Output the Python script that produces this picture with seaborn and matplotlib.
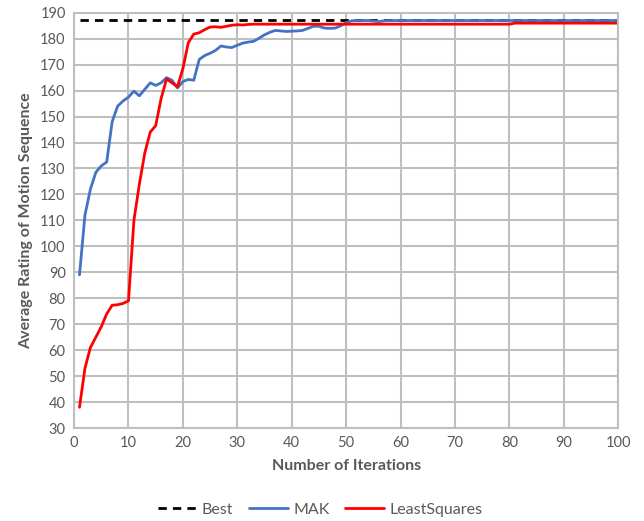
import numpy as np
import pandas as pd
import matplotlib
matplotlib.use("Agg")
import matplotlib.pyplot as plt
import seaborn as sns

iterations = list(range(1, 101))

mak = [89, 112, 122, 128.5, 131, 132.5, 148, 154, 156, 157.5,
       159.8, 158, 160.5, 163, 162, 163, 165, 164, 161, 163.5,
       164.3, 164, 172, 173.5, 174.4, 175.5, 177.2, 176.8, 176.6, 177.5,
       178.3, 178.7, 179, 180.2, 181.5, 182.5, 183.2, 183, 182.8, 182.9,
       183, 183.2, 184, 184.8, 184.8, 184.1, 184, 184.1, 185, 186.2,
       186.9, 187, 187, 187, 186.8, 186.6, 186.9] + [187.0] * 43

least_squares = [38, 53, 61, 65, 69, 74, 77.3, 77.5, 78, 79,
                 110, 124, 136, 144, 146.5, 157, 164.5, 163, 161.5, 168.5,
                 178.5, 181.8, 182.3, 183.5, 184.5, 184.6, 184.4, 184.8, 185.2, 185.4,
                 185.3, 185.5] + [185.6] * 48 + [186.0] * 20

best = [187.3] * 100

series_names = ["Best", "MAK", "LeastSquares"]
x_ticks = list(range(0, 101, 10))
y_ticks = list(range(30, 191, 10))

df = pd.DataFrame({
    "Iteration": iterations * 3,
    "Value": best + mak + least_squares,
    "Series": ["Best"] * 100 + ["MAK"] * 100 + ["LeastSquares"] * 100,
})

sns.set_style("white")
plt.rcParams["font.family"] = ["Lato", "DejaVu Sans"]

fig = plt.figure(figsize=(6.44, 5.21), dpi=100)
ax = fig.add_axes([0.115, 0.1785, 0.845, 0.797])

palette = {"Best": "#000000", "MAK": "#4472C4", "LeastSquares": "#FF0000"}
dashes = {"Best": (3, 2.2), "MAK": "", "LeastSquares": ""}
sns.lineplot(data=df, x="Iteration", y="Value", hue="Series", style="Series",
             hue_order=series_names, style_order=series_names,
             palette=palette, dashes=dashes, linewidth=2, ax=ax, legend=True)

ax.set_xlim(0, 100)
ax.set_ylim(30, 190)
ax.set_xticks(x_ticks)
ax.set_yticks(y_ticks)
ax.grid(True, color="#BFBFBF", linewidth=1.5)
ax.set_axisbelow(True)
for s in ax.spines.values():
    s.set_color("#BFBFBF")
    s.set_linewidth(1.5)
ax.tick_params(axis="both", length=0, labelsize=10.5, labelcolor="#595959", pad=6)

ax.set_xlabel("Number of Iterations", fontsize=11.5, fontweight="bold", color="#595959", labelpad=6)
ax.set_ylabel("Average Rating of Motion Sequence", fontsize=11.5, fontweight="bold", color="#595959", labelpad=5)

handles, labels = ax.get_legend_handles_labels()
ax.get_legend().remove()
fig.legend(handles, labels, loc="center", bbox_to_anchor=(0.497, 0.022),
           ncol=3, frameon=False, fontsize=11.5, labelcolor="#595959",
           handlelength=2.4, columnspacing=1.0, handletextpad=0.35)

fig.savefig("out.png", dpi=100)
